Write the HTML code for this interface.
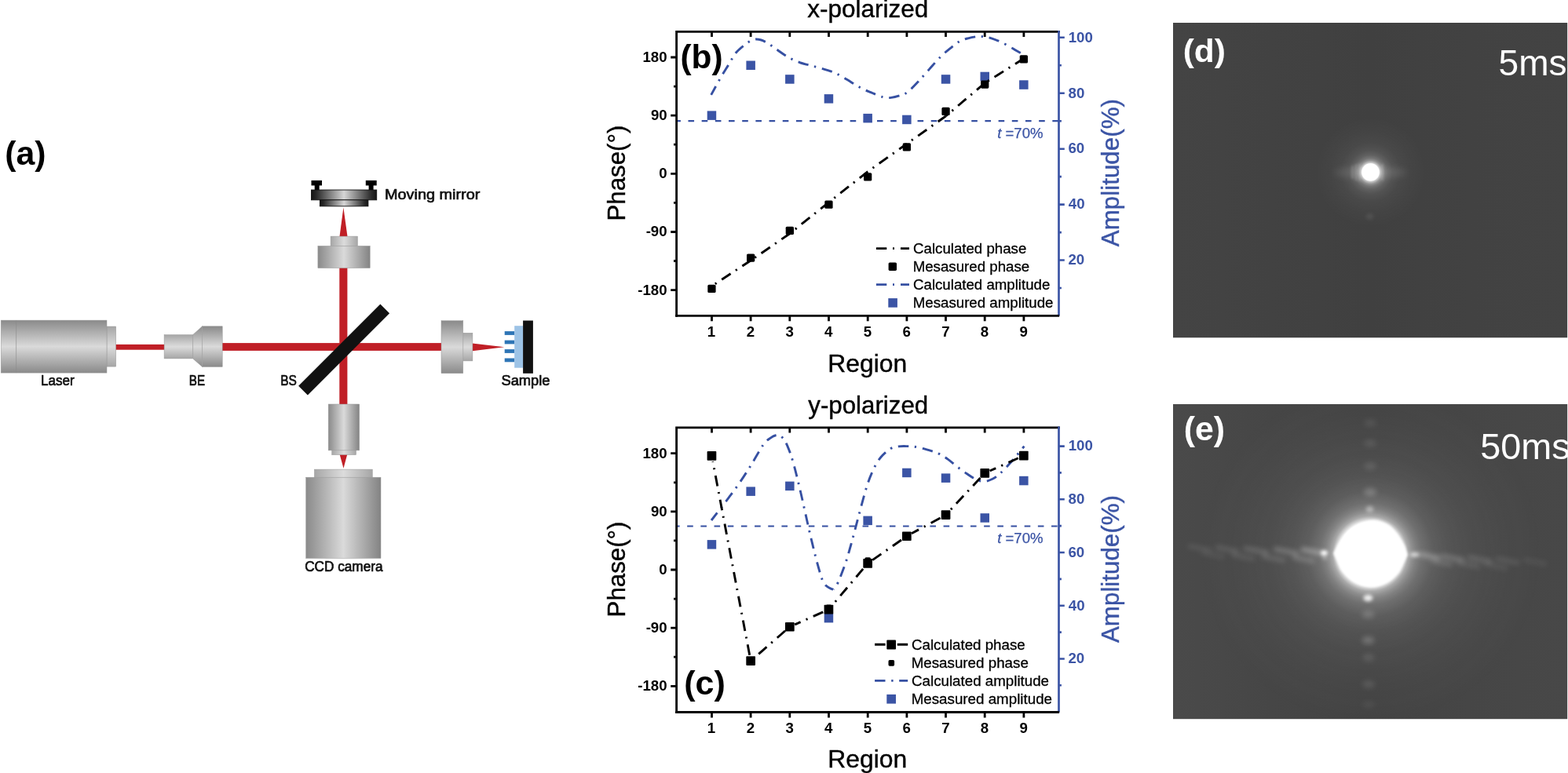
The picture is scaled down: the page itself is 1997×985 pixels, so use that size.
<!DOCTYPE html>
<html lang="en">
<head>
<meta charset="utf-8">
<title>Figure</title>
<style>
html,body{margin:0;padding:0;background:#fff;}
body{width:1997px;height:985px;overflow:hidden;}
svg{display:block;}
text{font-family:"Liberation Sans", sans-serif;}
.b{font-weight:bold;}
.lab{fill:#111;stroke:#111;stroke-width:0.7px;stroke-linejoin:round;}
</style>
</head>
<body>
<svg width="1997" height="985" viewBox="0 0 1997 985">
<defs>
<linearGradient id="gv" x1="0" y1="0" x2="0" y2="1">
<stop offset="0" stop-color="#8a8a8a"/><stop offset="0.5" stop-color="#dadada"/><stop offset="1" stop-color="#8a8a8a"/>
</linearGradient>
<linearGradient id="gh" x1="0" y1="0" x2="1" y2="0">
<stop offset="0" stop-color="#8a8a8a"/><stop offset="0.5" stop-color="#dadada"/><stop offset="1" stop-color="#838383"/>
</linearGradient>
<linearGradient id="gvl" x1="0" y1="0" x2="0" y2="1">
<stop offset="0" stop-color="#a6a6a6"/><stop offset="0.5" stop-color="#dcdcdc"/><stop offset="1" stop-color="#a6a6a6"/>
</linearGradient>
<linearGradient id="ghl" x1="0" y1="0" x2="1" y2="0">
<stop offset="0" stop-color="#a6a6a6"/><stop offset="0.5" stop-color="#dcdcdc"/><stop offset="1" stop-color="#a6a6a6"/>
</linearGradient>
<linearGradient id="gm" x1="0" y1="0" x2="1" y2="0">
<stop offset="0" stop-color="#141414"/><stop offset="0.08" stop-color="#2a2a2a"/><stop offset="0.5" stop-color="#d6d6d6"/><stop offset="0.92" stop-color="#2a2a2a"/><stop offset="1" stop-color="#141414"/>
</linearGradient>
</defs>
<rect width="1997" height="985" fill="#fff"/>

<g id="panel-a">
<text class="b" x="6.16" y="209.90" font-size="42.6" textLength="52.38" lengthAdjust="spacingAndGlyphs">(a)</text>
<rect x="147" y="438.9" width="63" height="6.8" fill="#c01f26"/>
<rect x="283" y="437.1" width="280" height="9.8" fill="#c01f26"/>
<rect x="432.3" y="341" width="10.1" height="175" fill="#c01f26"/>
<polygon points="432.4,302 442.6,302 437.4,264.4" fill="#c01f26"/>
<polygon points="432.5,578.5 442.4,578.5 437.5,596.8" fill="#c01f26"/>
<polygon points="601.5,437.6 601.5,447.2 642.3,442.2" fill="#c01f26"/>
<rect x="136" y="416" width="11.7" height="51.1" fill="url(#gvl)" stroke="#999" stroke-width="0.5"/>
<rect x="1.2" y="408.1" width="134.8" height="67" fill="url(#gv)" stroke="#999" stroke-width="0.5"/>
<line x1="20.6" y1="408.1" x2="20.6" y2="475.1" stroke="#8a8a8a" stroke-width="0.6"/>
<rect x="209.1" y="426.6" width="36.5" height="30.3" fill="url(#gvl)" stroke="#999" stroke-width="0.5"/>
<polygon points="245.6,426.6 257.6,415.8 257.6,467.4 245.6,456.9" fill="url(#gv)" stroke="#999" stroke-width="0.5"/>
<rect x="257.6" y="415.8" width="25.6" height="51.6" fill="url(#gv)" stroke="#999" stroke-width="0.5"/>
<rect x="421.1" y="301.1" width="34.3" height="12.6" fill="url(#ghl)" stroke="#999" stroke-width="0.5"/>
<rect x="404.9" y="313.4" width="66.3" height="28.2" fill="url(#gh)" stroke="#999" stroke-width="0.5"/>
<rect x="589.8" y="424.3" width="12.1" height="35.6" fill="url(#gvl)" stroke="#999" stroke-width="0.5"/>
<rect x="562" y="408.7" width="27.8" height="67" fill="url(#gv)" stroke="#999" stroke-width="0.5"/>
<rect x="422.7" y="573.5" width="30.8" height="6.1" fill="url(#ghl)" stroke="#999" stroke-width="0.5"/>
<rect x="418.2" y="515" width="39.5" height="58.9" fill="url(#gh)" stroke="#999" stroke-width="0.5"/>
<rect x="400.4" y="598.1" width="73.9" height="10.4" fill="url(#ghl)" stroke="#999" stroke-width="0.5"/>
<rect x="389.7" y="608.2" width="95.3" height="103.2" fill="url(#gh)" stroke="#999" stroke-width="0.5"/>
<rect x="-73.7" y="-8.3" width="147.4" height="16.6" fill="#111" transform="translate(438.1 445.6) rotate(-45)"/>
<rect x="642.7" y="422.1" width="12.6" height="4.8" fill="#2e75b6"/>
<rect x="642.7" y="433.6" width="12.6" height="4.8" fill="#2e75b6"/>
<rect x="642.7" y="445.1" width="12.6" height="4.8" fill="#2e75b6"/>
<rect x="642.7" y="456.5" width="12.6" height="4.8" fill="#2e75b6"/>
<rect x="655.2" y="415.2" width="11" height="53.5" fill="#9dc3e6"/>
<rect x="666.1" y="408.5" width="12.8" height="67.3" fill="#111"/>
<rect x="396.5" y="229.9" width="13.5" height="6.5" fill="#000"/>
<rect x="400.7" y="236" width="6" height="8.2" fill="#000"/>
<rect x="465.8" y="229.9" width="13.9" height="6.5" fill="#000"/>
<rect x="469.6" y="236" width="6" height="8.2" fill="#000"/>
<rect x="396.5" y="242" width="83.2" height="12.8" fill="url(#gm)" stroke="#111" stroke-width="0.9"/>
<rect x="407.4" y="254.8" width="61.5" height="8" fill="url(#gm)" stroke="#111" stroke-width="0.9"/>
<text class="lab" x="51.98" y="490.70" font-size="18.3" textLength="42.75" lengthAdjust="spacingAndGlyphs">Laser</text>
<text class="lab" x="240.83" y="490.70" font-size="18.3" textLength="20.29" lengthAdjust="spacingAndGlyphs">BE</text>
<text class="lab" x="357.21" y="490.80" font-size="18.3" textLength="20.73" lengthAdjust="spacingAndGlyphs">BS</text>
<text class="lab" x="638.42" y="490.50" font-size="18.3" textLength="62.16" lengthAdjust="spacingAndGlyphs">Sample</text>
<text class="lab" x="489.96" y="253.80" font-size="18.3" textLength="121.42" lengthAdjust="spacingAndGlyphs">Moving mirror</text>
<text class="lab" x="388.19" y="728.30" font-size="18.3" textLength="99.34" lengthAdjust="spacingAndGlyphs">CCD camera</text>
</g>
<g id="chart-b">
<text x="1028.33" y="22.10" font-size="31.5" textLength="153.95" lengthAdjust="spacingAndGlyphs" stroke="#000" stroke-width="0.4">x-polarized</text>
<line x1="861.6" y1="154.1" x2="1348.5" y2="154.1" stroke="#3650a2" stroke-width="2.1" stroke-dasharray="7.6 9.58" stroke-dashoffset="2.30"/>
<text x="1270.19" y="176.00" font-size="18.7" fill="#3b54a5" textLength="58.36" lengthAdjust="spacingAndGlyphs" stroke="#3b54a5" stroke-width="0.25"><tspan font-style="italic">t</tspan> =70%</text>
<path d="M905.7,120.9 C907.7,117.3 913.9,105.8 917.7,99.2 C921.5,92.6 925.3,86.8 928.5,81.5 C931.7,76.2 933.9,71.5 937.1,67.5 C940.3,63.5 944.5,60.3 947.6,57.8 C950.7,55.3 953.1,53.7 955.6,52.4 C958.1,51.1 960.2,50.2 962.5,50.0 C964.8,49.8 967.1,50.3 969.5,51.0 C971.9,51.7 974.2,53.0 976.6,54.3 C979.0,55.6 981.3,57.4 983.6,59.0 C985.9,60.6 987.3,61.7 990.6,64.0 C993.9,66.3 998.8,70.0 1003.4,72.6 C1008.0,75.2 1012.6,77.5 1018.4,79.6 C1024.2,81.6 1031.0,82.9 1037.9,84.9 C1044.8,86.9 1053.8,89.1 1060.0,91.5 C1066.2,93.9 1069.0,95.8 1075.0,99.2 C1081.0,102.6 1090.3,108.8 1096.1,111.9 C1101.9,115.0 1104.8,115.9 1109.6,117.9 C1114.3,119.9 1120.3,122.8 1124.6,123.9 C1128.8,125.0 1131.3,124.8 1135.1,124.4 C1138.8,124.0 1143.6,122.6 1147.1,121.4 C1150.6,120.2 1152.3,120.2 1156.1,117.2 C1159.9,114.2 1165.2,108.5 1169.7,103.7 C1174.2,98.9 1178.5,93.9 1183.2,88.6 C1188.0,83.3 1193.7,76.6 1198.2,72.1 C1202.7,67.6 1206.2,64.8 1210.2,61.6 C1214.2,58.4 1218.4,54.7 1222.2,52.6 C1226.0,50.5 1229.0,49.8 1232.8,48.8 C1236.6,47.8 1241.3,46.9 1244.8,46.6 C1248.3,46.3 1250.8,46.5 1253.8,46.9 C1256.8,47.3 1259.5,47.8 1262.8,48.8 C1266.0,49.8 1269.5,51.2 1273.3,52.9 C1277.0,54.6 1281.8,57.0 1285.3,59.0 C1288.8,61.0 1291.3,62.8 1294.4,64.6 C1297.5,66.4 1302.5,69.0 1304.1,69.9" fill="none" stroke="#3650a2" stroke-width="2.9" stroke-dasharray="13.4 7.6 2.4 7.9" stroke-dashoffset="1.0"/>
<rect x="900.7" y="141.4" width="11.5" height="11.5" fill="#3b54a5"/>
<rect x="950.4" y="77.5" width="11.5" height="11.5" fill="#3b54a5"/>
<rect x="1000.1" y="95.2" width="11.5" height="11.5" fill="#3b54a5"/>
<rect x="1049.7" y="120.1" width="11.5" height="11.5" fill="#3b54a5"/>
<rect x="1099.4" y="144.9" width="11.5" height="11.5" fill="#3b54a5"/>
<rect x="1149.1" y="146.7" width="11.5" height="11.5" fill="#3b54a5"/>
<rect x="1198.8" y="95.2" width="11.5" height="11.5" fill="#3b54a5"/>
<rect x="1248.5" y="91.7" width="11.5" height="11.5" fill="#3b54a5"/>
<rect x="1298.1" y="102.3" width="11.5" height="11.5" fill="#3b54a5"/>
<line x1="906.5" y1="364.6" x2="956.1" y2="332.0" stroke="#000" stroke-width="2.9" stroke-dasharray="13.6 7.6 2.2 7.9" stroke-dashoffset="16.1"/>
<line x1="956.1" y1="332.0" x2="1005.8" y2="297.7" stroke="#000" stroke-width="2.9" stroke-dasharray="13.6 7.6 2.2 7.9" stroke-dashoffset="14.9"/>
<line x1="1005.8" y1="297.7" x2="1055.5" y2="257.8" stroke="#000" stroke-width="2.9" stroke-dasharray="13.6 7.6 2.2 7.9" stroke-dashoffset="12.1"/>
<line x1="1055.5" y1="257.8" x2="1105.2" y2="218.6" stroke="#000" stroke-width="2.9" stroke-dasharray="13.6 7.6 2.2 7.9" stroke-dashoffset="12.5"/>
<line x1="1105.2" y1="218.6" x2="1154.9" y2="183.2" stroke="#000" stroke-width="2.9" stroke-dasharray="13.6 7.6 2.2 7.9" stroke-dashoffset="13.5"/>
<line x1="1154.9" y1="183.2" x2="1204.5" y2="148.0" stroke="#000" stroke-width="2.9" stroke-dasharray="13.6 7.6 2.2 7.9" stroke-dashoffset="13.8"/>
<line x1="1204.5" y1="148.0" x2="1254.2" y2="105.9" stroke="#000" stroke-width="2.9" stroke-dasharray="13.6 7.6 2.2 7.9" stroke-dashoffset="10.8"/>
<line x1="1254.2" y1="105.9" x2="1303.9" y2="74.6" stroke="#000" stroke-width="2.9" stroke-dasharray="13.6 7.6 2.2 7.9" stroke-dashoffset="16.7"/>
<rect x="901.3" y="362.8" width="10.3" height="10.3" rx="1.6" fill="#000"/>
<rect x="951.0" y="323.4" width="10.3" height="10.3" rx="1.6" fill="#000"/>
<rect x="1000.7" y="288.7" width="10.3" height="10.3" rx="1.6" fill="#000"/>
<rect x="1050.3" y="255.5" width="10.3" height="10.3" rx="1.6" fill="#000"/>
<rect x="1100.0" y="220.2" width="10.3" height="10.3" rx="1.6" fill="#000"/>
<rect x="1149.7" y="182.3" width="10.3" height="10.3" rx="1.6" fill="#000"/>
<rect x="1199.4" y="136.8" width="10.3" height="10.3" rx="1.6" fill="#000"/>
<rect x="1249.1" y="102.4" width="10.3" height="10.3" rx="1.6" fill="#000"/>
<rect x="1298.7" y="70.2" width="10.3" height="10.3" rx="1.6" fill="#000"/>
<path d="M861.6,403.84999999999997 V40.3 H1349.9" fill="none" stroke="#000" stroke-width="2.8"/>
<line x1="1348.5" y1="38.9" x2="1348.5" y2="402.45" stroke="#3b54a5" stroke-width="2.7"/>
<path d="M860.2,402.45 H1349.1" fill="none" stroke="#000" stroke-width="2.8"/>
<path d="M906.5,40.3 v6.7 M906.5,402.45 v6.9 M956.1,40.3 v6.7 M956.1,402.45 v6.9 M1005.8,40.3 v6.7 M1005.8,402.45 v6.9 M1055.5,40.3 v6.7 M1055.5,402.45 v6.9 M1105.2,40.3 v6.7 M1105.2,402.45 v6.9 M1154.9,40.3 v6.7 M1154.9,402.45 v6.9 M1204.5,40.3 v6.7 M1204.5,402.45 v6.9 M1254.2,40.3 v6.7 M1254.2,402.45 v6.9 M1303.9,40.3 v6.7 M1303.9,402.45 v6.9 M861.6,73.0 H854.2 M861.6,147.2 H854.2 M861.6,221.3 H854.2 M861.6,295.5 H854.2 M861.6,369.6 H854.2 M861.6,110.1 H858.0 M861.6,184.2 H858.0 M861.6,258.4 H858.0 M861.6,332.5 H858.0" fill="none" stroke="#000" stroke-width="2.8"/>
<path d="M1348.5,331.5 H1355.8 M1348.5,260.6 H1355.8 M1348.5,189.7 H1355.8 M1348.5,118.7 H1355.8 M1348.5,47.8 H1355.8 M1348.5,367.0 H1351.9 M1348.5,296.1 H1351.9 M1348.5,225.1 H1351.9 M1348.5,154.2 H1351.9 M1348.5,83.3 H1351.9" fill="none" stroke="#3b54a5" stroke-width="2.6"/>
<text class="b" x="818.42" y="79.00" font-size="18.7">180</text>
<text class="b" x="828.89" y="153.15" font-size="18.7">90</text>
<text class="b" x="839.27" y="227.30" font-size="18.7">0</text>
<text class="b" x="822.63" y="301.45" font-size="18.7">-90</text>
<text class="b" x="812.25" y="375.60" font-size="18.7">-180</text>
<text class="b" x="1360.45" y="337.32" font-size="18.7" fill="#3b54a5">20</text>
<text class="b" x="1360.82" y="266.39" font-size="18.7" fill="#3b54a5">40</text>
<text class="b" x="1360.45" y="195.46" font-size="18.7" fill="#3b54a5">60</text>
<text class="b" x="1360.54" y="124.53" font-size="18.7" fill="#3b54a5">80</text>
<text class="b" x="1360.68" y="53.60" font-size="18.7" fill="#3b54a5">100</text>
<text class="b" x="900.69" y="429.00" font-size="18.7">1</text>
<text class="b" x="950.79" y="429.00" font-size="18.7">2</text>
<text class="b" x="1000.51" y="429.00" font-size="18.7">3</text>
<text class="b" x="1050.01" y="429.00" font-size="18.7">4</text>
<text class="b" x="1099.73" y="429.00" font-size="18.7">5</text>
<text class="b" x="1149.46" y="429.00" font-size="18.7">6</text>
<text class="b" x="1199.14" y="429.00" font-size="18.7">7</text>
<text class="b" x="1248.82" y="429.00" font-size="18.7">8</text>
<text class="b" x="1298.50" y="429.00" font-size="18.7">9</text>
<text x="1054.25" y="473.70" font-size="32" textLength="100.88" lengthAdjust="spacingAndGlyphs" stroke="#000" stroke-width="0.4">Region</text>
<text transform="translate(796.30 281.50) rotate(-90)" font-size="32" stroke="#000" stroke-width="0.4" textLength="121.92" lengthAdjust="spacingAndGlyphs">Phase(°)</text>
<text transform="translate(1424.70 314.16) rotate(-90)" font-size="32" fill="#3b54a5" stroke="#3b54a5" stroke-width="0.4" textLength="188.10" lengthAdjust="spacingAndGlyphs">Amplitude(%)</text>
<text class="b" x="866.48" y="86.50" font-size="41.8" textLength="54.23" lengthAdjust="spacingAndGlyphs">(b)</text>
<line x1="1115.9" y1="316.6" x2="1158" y2="316.6" stroke="#000" stroke-width="2.9" stroke-dasharray="13.4 7.7 2 8.0"/>
<rect x="1131.6" y="334.5" width="10.4" height="10.4" rx="1.6" fill="#000"/>
<line x1="1115.9" y1="362.6" x2="1158" y2="362.6" stroke="#3650a2" stroke-width="2.9" stroke-dasharray="13.4 7.7 2 8.0"/>
<rect x="1131.3" y="380.1" width="11.6" height="11.6" fill="#3b54a5"/>
<text x="1163.02" y="323.20" font-size="18.7" textLength="144.33" lengthAdjust="spacingAndGlyphs" stroke="#000" stroke-width="0.3">Calculated phase</text>
<text x="1162.65" y="346.00" font-size="18.7" textLength="148.62" lengthAdjust="spacingAndGlyphs" stroke="#000" stroke-width="0.3">Mesasured phase</text>
<text x="1163.02" y="368.80" font-size="18.7" textLength="174.35" lengthAdjust="spacingAndGlyphs" stroke="#000" stroke-width="0.3">Calculated amplitude</text>
<text x="1162.65" y="391.80" font-size="18.7" textLength="178.85" lengthAdjust="spacingAndGlyphs" stroke="#000" stroke-width="0.3">Mesasured amplitude</text>
</g>
<g id="chart-c">
<text x="1029.34" y="526.90" font-size="31.5" textLength="152.82" lengthAdjust="spacingAndGlyphs" stroke="#000" stroke-width="0.4">y-polarized</text>
<line x1="861.6" y1="670.5" x2="1348.5" y2="670.5" stroke="#3650a2" stroke-width="2.1" stroke-dasharray="7.6 9.58" stroke-dashoffset="3.60"/>
<text x="1270.19" y="692.00" font-size="18.7" fill="#3b54a5" textLength="58.36" lengthAdjust="spacingAndGlyphs" stroke="#3b54a5" stroke-width="0.25"><tspan font-style="italic">t</tspan> =70%</text>
<path d="M906.0,663.0 C908.2,660.2 913.6,653.2 919.0,646.1 C924.4,639.0 932.3,628.9 938.5,620.1 C944.7,611.3 950.6,602.2 956.1,593.4 C961.6,584.6 967.6,573.1 971.7,567.3 C975.8,561.5 977.5,560.8 980.5,558.6 C983.5,556.4 987.2,554.4 990.0,554.3 C992.8,554.2 994.9,555.8 997.1,558.2 C999.3,560.6 1000.8,563.5 1003.0,568.6 C1005.2,573.7 1007.6,580.4 1010.1,589.0 C1012.6,597.6 1015.4,609.3 1018.0,620.0 C1020.6,630.7 1023.0,641.9 1025.5,653.0 C1028.0,664.1 1030.5,675.7 1033.1,686.5 C1035.7,697.3 1038.5,708.9 1040.9,717.7 C1043.3,726.5 1045.6,734.5 1047.4,739.2 C1049.2,743.9 1050.0,744.1 1051.5,745.8 C1053.0,747.5 1054.9,748.3 1056.5,749.2 C1058.1,750.1 1060.4,750.9 1061.2,751.2" fill="none" stroke="#3650a2" stroke-width="2.9" stroke-dasharray="13.4 7.6 2.4 7.9" stroke-dashoffset="1.0"/>
<path d="M1061.6,751.0 C1062.0,750.4 1063.3,748.6 1064.2,747.3 C1065.1,746.0 1065.9,745.0 1066.9,743.0 C1067.9,741.0 1068.4,740.1 1070.2,735.3 C1072.0,730.5 1075.3,722.5 1078.0,714.0 C1080.7,705.5 1083.8,694.2 1086.5,684.2 C1089.2,674.2 1091.6,664.6 1094.5,653.9 C1097.4,643.2 1101.0,629.1 1103.9,620.0 C1106.8,610.9 1109.1,605.2 1112.0,599.0 C1114.9,592.8 1117.8,587.5 1121.5,583.0 C1125.2,578.5 1130.1,574.2 1133.9,571.9 C1137.7,569.5 1140.8,569.4 1144.3,568.9 C1147.8,568.4 1151.2,568.5 1154.7,568.6 C1158.2,568.7 1161.0,568.6 1165.1,569.3 C1169.2,570.0 1174.4,571.2 1179.4,572.6 C1184.4,574.0 1190.4,575.8 1195.0,577.8 C1199.6,579.8 1202.8,582.1 1206.8,584.9 C1210.8,587.7 1215.0,591.6 1219.1,594.7 C1223.2,597.9 1227.5,601.1 1231.5,603.8 C1235.5,606.5 1239.5,609.4 1243.2,611.0 C1246.9,612.6 1250.1,613.7 1253.6,613.6 C1257.1,613.5 1260.8,611.9 1264.1,610.3 C1267.4,608.7 1270.2,606.4 1273.2,603.8 C1276.2,601.2 1279.0,598.2 1282.3,594.7 C1285.5,591.2 1289.0,587.4 1292.7,583.0 C1296.4,578.6 1302.5,571.0 1304.4,568.6" fill="none" stroke="#3650a2" stroke-width="2.9" stroke-dasharray="13.4 7.6 2.4 7.9" stroke-dashoffset="12.6"/>
<rect x="900.7" y="688.1" width="11.5" height="11.5" fill="#3b54a5"/>
<rect x="950.4" y="620.4" width="11.5" height="11.5" fill="#3b54a5"/>
<rect x="1000.1" y="613.6" width="11.5" height="11.5" fill="#3b54a5"/>
<rect x="1049.7" y="781.9" width="11.5" height="11.5" fill="#3b54a5"/>
<rect x="1099.4" y="657.6" width="11.5" height="11.5" fill="#3b54a5"/>
<rect x="1149.1" y="596.7" width="11.5" height="11.5" fill="#3b54a5"/>
<rect x="1198.8" y="603.4" width="11.5" height="11.5" fill="#3b54a5"/>
<rect x="1248.5" y="654.2" width="11.5" height="11.5" fill="#3b54a5"/>
<rect x="1298.1" y="606.8" width="11.5" height="11.5" fill="#3b54a5"/>
<line x1="907.8" y1="587.9" x2="954.8" y2="835.2" stroke="#000" stroke-width="2.9" stroke-dasharray="13.6 7.6 2.2 7.9" stroke-dashoffset="12.8"/>
<line x1="961.4" y1="837.5" x2="1000.5" y2="803.4" stroke="#000" stroke-width="2.9" stroke-dasharray="13.6 7.6 2.2 7.9" stroke-dashoffset="24.9"/>
<line x1="1012.2" y1="795.9" x2="1049.1" y2="779.5" stroke="#000" stroke-width="2.9" stroke-dasharray="13.6 7.6 2.2 7.9" stroke-dashoffset="5.5"/>
<line x1="1060.0" y1="771.3" x2="1100.6" y2="723.2" stroke="#000" stroke-width="2.9" stroke-dasharray="13.6 7.6 2.2 7.9" stroke-dashoffset="15.4"/>
<line x1="1110.9" y1="713.9" x2="1149.1" y2="687.2" stroke="#000" stroke-width="2.9" stroke-dasharray="13.6 7.6 2.2 7.9" stroke-dashoffset="30.9"/>
<line x1="1161.0" y1="679.8" x2="1198.4" y2="659.5" stroke="#000" stroke-width="2.9" stroke-dasharray="13.6 7.6 2.2 7.9" stroke-dashoffset="3.3"/>
<line x1="1209.3" y1="651.0" x2="1249.4" y2="608.0" stroke="#000" stroke-width="2.9" stroke-dasharray="13.6 7.6 2.2 7.9" stroke-dashoffset="18.7"/>
<line x1="1260.6" y1="600.0" x2="1297.5" y2="583.5" stroke="#000" stroke-width="2.9" stroke-dasharray="13.6 7.6 2.2 7.9" stroke-dashoffset="5.2"/>
<rect x="900.6" y="575.1" width="11.7" height="11.7" rx="0.8" fill="#000"/>
<rect x="950.3" y="836.2" width="11.7" height="11.7" rx="0.8" fill="#000"/>
<rect x="1000.0" y="792.9" width="11.7" height="11.7" rx="0.8" fill="#000"/>
<rect x="1049.6" y="770.8" width="11.7" height="11.7" rx="0.8" fill="#000"/>
<rect x="1099.3" y="712.0" width="11.7" height="11.7" rx="0.8" fill="#000"/>
<rect x="1149.0" y="677.4" width="11.7" height="11.7" rx="0.8" fill="#000"/>
<rect x="1198.7" y="650.2" width="11.7" height="11.7" rx="0.8" fill="#000"/>
<rect x="1248.4" y="597.0" width="11.7" height="11.7" rx="0.8" fill="#000"/>
<rect x="1298.0" y="574.8" width="11.7" height="11.7" rx="0.8" fill="#000"/>
<rect x="1002.0" y="793.6" width="7.6" height="7.6" rx="1.6" fill="#000"/>
<rect x="1051.7" y="770.6" width="7.6" height="7.6" rx="1.6" fill="#000"/>
<rect x="1101.4" y="710.2" width="7.6" height="7.6" rx="1.6" fill="#000"/>
<path d="M861.6,908.9 V544.9 H1349.9" fill="none" stroke="#000" stroke-width="2.8"/>
<line x1="1348.5" y1="543.5" x2="1348.5" y2="907.5" stroke="#3b54a5" stroke-width="2.7"/>
<path d="M860.2,907.5 H1349.1" fill="none" stroke="#000" stroke-width="2.8"/>
<path d="M906.5,544.9 v6.7 M906.5,907.5 v6.9 M956.1,544.9 v6.7 M956.1,907.5 v6.9 M1005.8,544.9 v6.7 M1005.8,907.5 v6.9 M1055.5,544.9 v6.7 M1055.5,907.5 v6.9 M1105.2,544.9 v6.7 M1105.2,907.5 v6.9 M1154.9,544.9 v6.7 M1154.9,907.5 v6.9 M1204.5,544.9 v6.7 M1204.5,907.5 v6.9 M1254.2,544.9 v6.7 M1254.2,907.5 v6.9 M1303.9,544.9 v6.7 M1303.9,907.5 v6.9 M861.6,577.7 H854.2 M861.6,651.9 H854.2 M861.6,726.0 H854.2 M861.6,800.2 H854.2 M861.6,874.3 H854.2 M861.6,614.8 H858.0 M861.6,688.9 H858.0 M861.6,763.1 H858.0 M861.6,837.2 H858.0" fill="none" stroke="#000" stroke-width="2.8"/>
<path d="M1348.5,839.5 H1355.8 M1348.5,771.7 H1355.8 M1348.5,704.0 H1355.8 M1348.5,636.3 H1355.8 M1348.5,568.6 H1355.8 M1348.5,873.3 H1351.9 M1348.5,805.6 H1351.9 M1348.5,737.9 H1351.9 M1348.5,670.1 H1351.9 M1348.5,602.4 H1351.9" fill="none" stroke="#3b54a5" stroke-width="2.6"/>
<text class="b" x="818.42" y="583.70" font-size="18.7">180</text>
<text class="b" x="828.89" y="657.85" font-size="18.7">90</text>
<text class="b" x="839.27" y="732.00" font-size="18.7">0</text>
<text class="b" x="822.63" y="806.15" font-size="18.7">-90</text>
<text class="b" x="812.25" y="880.30" font-size="18.7">-180</text>
<text class="b" x="1360.45" y="845.27" font-size="18.7" fill="#3b54a5">20</text>
<text class="b" x="1360.82" y="777.54" font-size="18.7" fill="#3b54a5">40</text>
<text class="b" x="1360.45" y="709.81" font-size="18.7" fill="#3b54a5">60</text>
<text class="b" x="1360.54" y="642.08" font-size="18.7" fill="#3b54a5">80</text>
<text class="b" x="1360.68" y="574.35" font-size="18.7" fill="#3b54a5">100</text>
<text class="b" x="900.69" y="934.20" font-size="18.7">1</text>
<text class="b" x="950.79" y="934.20" font-size="18.7">2</text>
<text class="b" x="1000.51" y="934.20" font-size="18.7">3</text>
<text class="b" x="1050.01" y="934.20" font-size="18.7">4</text>
<text class="b" x="1099.73" y="934.20" font-size="18.7">5</text>
<text class="b" x="1149.46" y="934.20" font-size="18.7">6</text>
<text class="b" x="1199.14" y="934.20" font-size="18.7">7</text>
<text class="b" x="1248.82" y="934.20" font-size="18.7">8</text>
<text class="b" x="1298.50" y="934.20" font-size="18.7">9</text>
<text x="1054.25" y="978.30" font-size="32" textLength="100.88" lengthAdjust="spacingAndGlyphs" stroke="#000" stroke-width="0.4">Region</text>
<text transform="translate(796.30 786.40) rotate(-90)" font-size="32" stroke="#000" stroke-width="0.4" textLength="121.92" lengthAdjust="spacingAndGlyphs">Phase(°)</text>
<text transform="translate(1424.70 819.06) rotate(-90)" font-size="32" fill="#3b54a5" stroke="#3b54a5" stroke-width="0.4" textLength="188.10" lengthAdjust="spacingAndGlyphs">Amplitude(%)</text>
<text class="b" x="871.25" y="885.30" font-size="41.8" textLength="52.60" lengthAdjust="spacingAndGlyphs">(c)</text>
<path d="M1114.1,821.3 H1127.6 M1142.8,821.3 H1156.2" stroke="#000" stroke-width="2.9" fill="none"/>
<rect x="1129.3" y="815.6" width="11.7" height="11.9" rx="0.8" fill="#000"/>
<rect x="1131.5" y="841.1" width="7.6" height="7.6" rx="1.6" fill="#000"/>
<line x1="1114.1" y1="867.4" x2="1156.2" y2="867.4" stroke="#3650a2" stroke-width="2.9" stroke-dasharray="13.4 7.7 2.4 7.6"/>
<rect x="1129.3" y="884.9" width="11.7" height="11.7" fill="#3b54a5"/>
<text x="1161.01" y="827.60" font-size="18.7" textLength="144.73" lengthAdjust="spacingAndGlyphs" stroke="#000" stroke-width="0.3">Calculated phase</text>
<text x="1160.65" y="850.50" font-size="18.7" textLength="149.23" lengthAdjust="spacingAndGlyphs" stroke="#000" stroke-width="0.3">Mesasured phase</text>
<text x="1161.01" y="873.60" font-size="18.7" textLength="175.06" lengthAdjust="spacingAndGlyphs" stroke="#000" stroke-width="0.3">Calculated amplitude</text>
<text x="1160.65" y="896.60" font-size="18.7" textLength="179.36" lengthAdjust="spacingAndGlyphs" stroke="#000" stroke-width="0.3">Mesasured amplitude</text>
</g>
<defs>
<radialGradient id="halod" cx="0.5" cy="0.5" r="0.5"><stop offset="0.0000" stop-color="#fff" stop-opacity="1"/><stop offset="0.1429" stop-color="#fff" stop-opacity="1"/><stop offset="0.1786" stop-color="#fff" stop-opacity="0.66"/><stop offset="0.2143" stop-color="#fff" stop-opacity="0.42"/><stop offset="0.2571" stop-color="#fff" stop-opacity="0.27"/><stop offset="0.3143" stop-color="#fff" stop-opacity="0.17"/><stop offset="0.4000" stop-color="#fff" stop-opacity="0.095"/><stop offset="0.5429" stop-color="#fff" stop-opacity="0.045"/><stop offset="0.7429" stop-color="#fff" stop-opacity="0.02"/><stop offset="1.0000" stop-color="#fff" stop-opacity="0"/></radialGradient>
<radialGradient id="haloe" cx="0.5" cy="0.5" r="0.5"><stop offset="0.0000" stop-color="#fff" stop-opacity="1"/><stop offset="0.1818" stop-color="#fff" stop-opacity="1"/><stop offset="0.2000" stop-color="#fff" stop-opacity="0.76"/><stop offset="0.2182" stop-color="#fff" stop-opacity="0.54"/><stop offset="0.2409" stop-color="#fff" stop-opacity="0.41"/><stop offset="0.2636" stop-color="#fff" stop-opacity="0.32"/><stop offset="0.2955" stop-color="#fff" stop-opacity="0.235"/><stop offset="0.3636" stop-color="#fff" stop-opacity="0.14"/><stop offset="0.4545" stop-color="#fff" stop-opacity="0.085"/><stop offset="0.5682" stop-color="#fff" stop-opacity="0.05"/><stop offset="0.7273" stop-color="#fff" stop-opacity="0.024"/><stop offset="1.0000" stop-color="#fff" stop-opacity="0"/></radialGradient>
<filter id="bl07" x="-50%" y="-50%" width="200%" height="200%"><feGaussianBlur stdDeviation="0.7"/></filter>
<filter id="bl1" x="-50%" y="-50%" width="200%" height="200%"><feGaussianBlur stdDeviation="1.4"/></filter>
<filter id="bl2" x="-50%" y="-50%" width="200%" height="200%"><feGaussianBlur stdDeviation="2.2"/></filter>
<filter id="bl3" x="-50%" y="-50%" width="200%" height="200%"><feGaussianBlur stdDeviation="3"/></filter>
<filter id="bl4" x="-80%" y="-80%" width="260%" height="260%"><feGaussianBlur stdDeviation="4"/></filter>
<linearGradient id="bgd" x1="0" y1="0" x2="1" y2="0">
<stop offset="0" stop-color="#444"/><stop offset="0.25" stop-color="#424242"/><stop offset="0.5" stop-color="#404040"/><stop offset="0.75" stop-color="#424242"/><stop offset="1" stop-color="#434343"/>
</linearGradient>
<linearGradient id="bge" x1="0" y1="0" x2="1" y2="0">
<stop offset="0" stop-color="#4a4a4a"/><stop offset="0.25" stop-color="#464646"/><stop offset="0.5" stop-color="#434343"/><stop offset="0.75" stop-color="#464646"/><stop offset="1" stop-color="#484848"/>
</linearGradient>
<clipPath id="cd"><rect x="1494.0" y="28.9" width="502.40" height="401.6"/></clipPath>
<clipPath id="ce"><rect x="1494.0" y="515" width="502.40" height="401.4"/></clipPath>
</defs>
<g id="panel-d" clip-path="url(#cd)">
<rect x="1494.0" y="28.9" width="502.40" height="401.6" fill="url(#bgd)"/>
<ellipse cx="1745.5" cy="219.8" rx="46" ry="7" fill="#fff" opacity="0.1" filter="url(#bl4)"/>
<ellipse cx="1744.5" cy="276" rx="5" ry="4" fill="#fff" opacity="0.07" filter="url(#bl2)"/>
<circle cx="1745.5" cy="219.4" r="70" fill="url(#halod)"/>
<g fill="#fff" filter="url(#bl1)" opacity="0.2"><rect x="1721.5" y="211" width="2.2" height="17"/><rect x="1726" y="209" width="2.2" height="21"/><rect x="1730.5" y="208" width="2.2" height="23"/><rect x="1759.5" y="209" width="2.2" height="21"/></g>
<circle cx="1745.5" cy="219.4" r="11.2" fill="#fff" filter="url(#bl07)"/>
<text class="b" x="1506.68" y="78.70" font-size="41.2" fill="#fff" textLength="54.12" lengthAdjust="spacingAndGlyphs">(d)</text>
<text x="1908.56" y="96.40" font-size="46.8" fill="#fff" textLength="87.05" lengthAdjust="spacingAndGlyphs">5ms</text>
</g>
<g id="panel-e" clip-path="url(#ce)">
<rect x="1494.0" y="515" width="502.40" height="401.4" fill="url(#bge)"/>
<g filter="url(#bl3)" fill="#fff">
<rect x="1513.0" y="695.5" width="30" height="6" opacity="0.09" transform="rotate(11 1528 698.5)"/>
<rect x="1548.0" y="697" width="30" height="6" opacity="0.12" transform="rotate(11 1563 700)"/>
<rect x="1584.0" y="698.5" width="32" height="6" opacity="0.16" transform="rotate(11 1600 701.5)"/>
<rect x="1622.0" y="699.5" width="32" height="6" opacity="0.22" transform="rotate(11 1638 702.5)"/>
<rect x="1657.0" y="699.5" width="28" height="6" opacity="0.34" transform="rotate(11 1671 702.5)"/>
<rect x="1530.0" y="704" width="30" height="6" opacity="0.07" transform="rotate(11 1545 707)"/>
<rect x="1568.0" y="706.5" width="30" height="6" opacity="0.1" transform="rotate(11 1583 709.5)"/>
<rect x="1607.0" y="708.5" width="30" height="6" opacity="0.14" transform="rotate(11 1622 711.5)"/>
<rect x="1646.0" y="709.5" width="28" height="6" opacity="0.2" transform="rotate(11 1660 712.5)"/>
<rect x="1806.0" y="705.5" width="28" height="6" opacity="0.3" transform="rotate(11 1820 708.5)"/>
<rect x="1835.0" y="708" width="30" height="6" opacity="0.2" transform="rotate(11 1850 711)"/>
<rect x="1869.0" y="710" width="32" height="6" opacity="0.14" transform="rotate(11 1885 713)"/>
<rect x="1905.0" y="711.5" width="30" height="6" opacity="0.1" transform="rotate(11 1920 714.5)"/>
<rect x="1940.0" y="713" width="30" height="6" opacity="0.07" transform="rotate(11 1955 716)"/>
<rect x="1822.0" y="714" width="28" height="6" opacity="0.15" transform="rotate(11 1836 717)"/>
<rect x="1855.0" y="716.5" width="30" height="6" opacity="0.11" transform="rotate(11 1870 719.5)"/>
<rect x="1890.0" y="718.5" width="30" height="6" opacity="0.08" transform="rotate(11 1905 721.5)"/>
<ellipse cx="1745" cy="539" rx="8" ry="5" opacity="0.07"/>
<ellipse cx="1745" cy="565" rx="8" ry="5" opacity="0.09"/>
<ellipse cx="1745" cy="594" rx="8" ry="5" opacity="0.1"/>
<ellipse cx="1745" cy="627" rx="8" ry="5" opacity="0.2"/>
<ellipse cx="1742.5" cy="783" rx="8" ry="5" opacity="0.16"/>
<ellipse cx="1742.5" cy="816" rx="8" ry="5" opacity="0.2"/>
<ellipse cx="1743" cy="838" rx="8" ry="5" opacity="0.1"/>
<ellipse cx="1743" cy="872" rx="8" ry="5" opacity="0.1"/>
<ellipse cx="1743" cy="898" rx="8" ry="5" opacity="0.05"/>
</g>
<circle cx="1745.3" cy="705.6" r="220" fill="url(#haloe)"/>
<g filter="url(#bl1)" fill="#fff">
<path d="M1698,705 L1703.5,694 Q1711,682 1725,671 Q1738,663 1750,662.8 Q1761,663.5 1771.5,671 Q1783,683 1789.7,696.5 L1793,707 L1783,728 Q1776,737 1767.8,742 Q1756,748.3 1745,748.3 Q1733,747 1722.5,740.5 Q1713,733 1707.5,725.5 Z"/>
</g>
<g filter="url(#bl2)" fill="#fff">
<ellipse cx="1744.5" cy="648.8" rx="5" ry="4" opacity="0.38"/>
<ellipse cx="1742.4" cy="762" rx="6" ry="4.2" opacity="0.85"/>
<ellipse cx="1686.5" cy="704.6" rx="4.6" ry="3.4" opacity="1"/>
<ellipse cx="1687" cy="711" rx="3.5" ry="2.5" opacity="0.3"/>
<ellipse cx="1801.5" cy="706.8" rx="6" ry="3.2" opacity="0.62"/>
</g>
<text class="b" x="1507.76" y="560.90" font-size="41.8" fill="#fff" textLength="52.27" lengthAdjust="spacingAndGlyphs">(e)</text>
<text x="1885.23" y="585.00" font-size="46.8" fill="#fff">50ms</text>
</g>
</svg>
</body>
</html>
